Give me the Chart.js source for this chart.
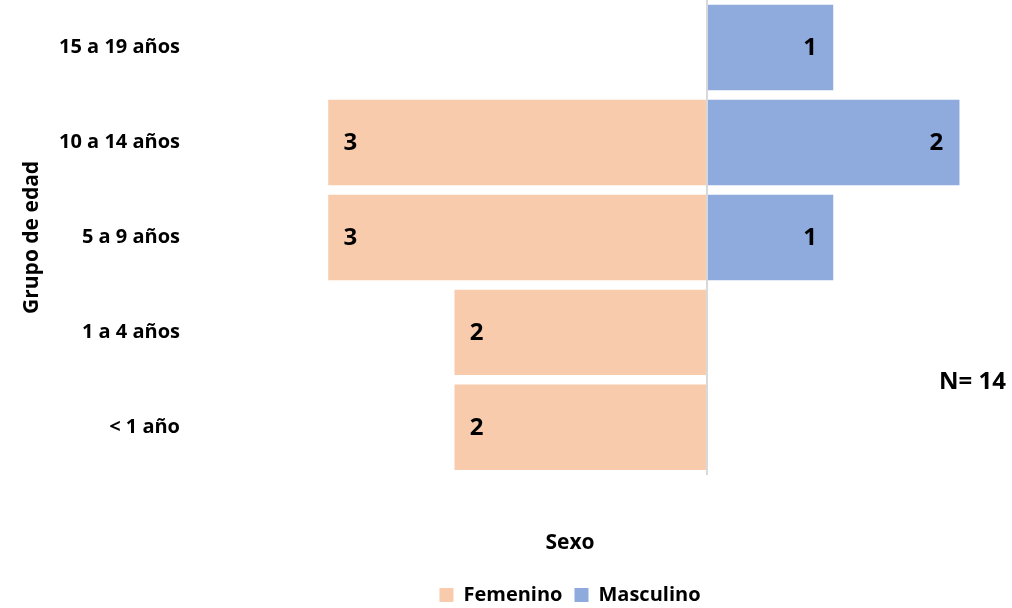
<!DOCTYPE html>
<html>
<head>
<meta charset="utf-8">
<script src="https://cdn.jsdelivr.net/npm/chart.js@4"></script>
<style>
  html, body { margin: 0; padding: 0; overflow: hidden; background: #fff; }
  #wrap { width: 1140px; height: 649px; margin-top: -34px; }
</style>
</head>
<body>
<div id="wrap"><canvas id="chart" width="1140" height="649"></canvas></div>
<script>
// categorias de arriba hacia abajo
let grupos = ["15 a 19 años", "10 a 14 años", "5 a 9 años", "1 a 4 años", "< 1 año"];
let femenino = [0, 3, 3, 2, 2];
let masculino = [1, 2, 1, 0, 0];
let total = 14;

let fuente = "'Open Sans', Lato, sans-serif";

// etiquetas de valor dentro de las barras + texto N
let etiquetas = {
    id: 'etiquetas',
    afterDatasetsDraw(chart) {
        let c = chart.ctx;
        c.save();
        c.font = "bold 24px " + fuente;
        c.fillStyle = "#000";
        c.textBaseline = "middle";
        c.textAlign = "center";
        chart.data.datasets.forEach((ds, i) => {
            chart.getDatasetMeta(i).data.forEach((bar, j) => {
                let v = ds.data[j];
                if (!v) return;
                let x = v < 0 ? bar.x + 22 : bar.x - 23;
                c.fillText(String(Math.abs(v)), x, bar.y + 1);
            });
        });
        c.font = "bold 24px " + fuente;
        c.textAlign = "left";
        c.fillText("N= " + total, 939, 34 + 382);
        c.restore();
    }
};

new Chart(document.getElementById('chart'), {
    type: 'bar',
    data: {
        labels: grupos,
        datasets: [{
            label: 'Femenino',
            data: femenino.map(v => -v),
            backgroundColor: "#F8CBAD",
            categoryPercentage: 0.9,
            barPercentage: 1.0
        },
        {
            label: 'Masculino',
            data: masculino,
            backgroundColor: "#8FAADC",
            categoryPercentage: 0.9,
            barPercentage: 1.0
        }]
    },
    options: {
        indexAxis: 'y',
        responsive: false,
        animation: false,
        layout: { padding: 0 },
        scales: {
            x: {
                stacked: true,
                min: -4,
                max: 3.43,
                ticks: { display: false, stepSize: 1 },
                border: { display: false },
                grid: {
                    drawTicks: false,
                    color: c => c.tick && c.tick.value === 0 ? "#d9d9d9" : "rgba(0,0,0,0)",
                    lineWidth: 2
                }
            },
            y: {
                stacked: true,
                border: { display: false },
                grid: { display: false, drawTicks: false },
                ticks: { color: "#000", font: { family: fuente, size: 20, weight: 'bold' }, padding: 22 },
                title: { display: true, text: 'Grupo de edad', color: "#000", font: { family: fuente, size: 21, weight: 'bold' }, padding: { top: 19, bottom: 0 } },
                afterFit(scale) { scale.width = 202; }
            }
        },
        plugins: {
            tooltip: { enabled: false },
            legend: {
                position: 'bottom',
                title: { display: true, text: 'Sexo', color: "#000", font: { family: fuente, size: 21, weight: 'bold' }, padding: { top: 58, bottom: 15 } },
                labels: { color: "#000", boxWidth: 14, boxHeight: 14, padding: 12, font: { family: fuente, size: 20, weight: 'bold' } }
            }
        }
    },
    plugins: [etiquetas]
});
</script>
</body>
</html>
